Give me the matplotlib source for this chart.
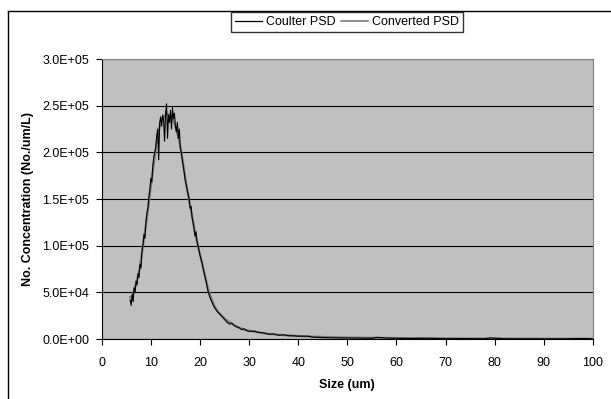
import matplotlib
matplotlib.use("Agg")
import matplotlib.pyplot as plt
from matplotlib.lines import Line2D

plt.rcParams["font.family"] = ["Liberation Sans", "DejaVu Sans"]

# Coulter PSD (black, noisy) - size in um, concentration in thousands No./um/L
coulter_size = [
    5.8, 6.0, 6.2, 6.4, 6.6, 6.8, 7.0, 7.2, 7.4, 7.6, 7.8, 8.0, 8.2, 8.4, 8.6, 8.8,
    9.0, 9.2, 9.4, 9.6, 9.8, 10.0, 10.2, 10.4, 10.6, 10.8, 11.0, 11.2, 11.4, 11.6,
    11.8, 12.0, 12.2, 12.4, 12.6, 12.8, 13.0, 13.2, 13.4, 13.6, 13.8, 14.0, 14.2,
    14.4, 14.6, 14.8, 15.0, 15.2, 15.4, 15.6, 15.8, 16.0, 16.2, 16.4, 16.6, 16.8,
    17.0, 17.2, 17.4, 17.6, 17.8, 18.0, 18.2, 18.4, 18.6, 18.8, 19.0, 19.2, 19.4,
    19.6, 19.8, 20.0, 20.4, 20.8, 21.2, 21.6, 22.0, 22.4, 22.8, 23.2, 23.6, 24.0,
    24.5, 25.0, 25.5, 26.0, 26.5, 27.0, 27.5, 28.0, 28.5, 29.0, 29.5, 30.0, 31, 32,
    33, 34, 35, 36, 37, 38, 39, 40, 42, 43, 45, 48, 52, 55, 56, 58, 62, 66, 70, 75,
    78, 79, 82, 88, 94, 98, 100,
]
coulter_conc = [
    42, 36, 48, 40, 55, 50, 62, 58, 70, 66, 80, 76, 95, 100, 112, 108,
    125, 135, 140, 152, 160, 172, 168, 185, 195, 200, 205, 218, 225, 192,
    232, 238, 228, 240, 235, 212, 242, 252, 215, 240, 232, 245, 225,
    248, 236, 242, 228, 222, 232, 215, 225, 205, 200, 192, 185, 178,
    170, 165, 160, 155, 150, 140, 142, 130, 125, 118, 110, 115, 105,
    100, 95, 90, 82, 72, 63, 52, 45, 40, 35, 32, 29, 27,
    24, 21, 18, 16, 17, 14, 13, 12, 10, 11, 9, 8, 8.5, 7,
    6.5, 5, 5.5, 4, 4.5, 3.5, 3.5, 3, 3, 2, 1.5, 1.2, 1.0, 0.8, 1.8, 1.0, 0.6, 0.8, 0.4, 0.4,
    0.3, 1.2, 0.3, 0.2, 0.2, 0.5, 0.1,
]

# Converted PSD (grey, smoother)
conv_size = [
    5.8, 6.2, 6.6, 7.0, 7.4, 7.8, 8.2, 8.6, 9.0, 9.4, 9.8, 10.2, 10.6, 11.0, 11.4,
    11.8, 12.2, 12.6, 13.0, 13.4, 13.8, 14.2, 14.6, 15.0, 15.4, 15.8, 16.2, 16.6,
    17.0, 17.4, 17.8, 18.2, 18.6, 19.0, 19.4, 19.8, 20.4, 21.0, 21.6, 22.2, 22.8,
    23.4, 24.0, 25.0, 26.0, 27.0, 28.0, 29.0, 30, 32, 34, 36, 38, 40, 43, 46, 50,
    55, 60, 65, 70, 80, 90, 100,
]
conv_conc = [
    45, 45, 52, 60, 68, 78, 92, 108, 122, 138, 155, 172, 188, 203, 218,
    228, 234, 238, 240, 241, 240, 237, 234, 228, 220, 212, 200, 187,
    173, 160, 148, 137, 126, 114, 104, 95, 82, 68, 55, 45, 37,
    31, 27, 22, 18, 15, 12, 10, 9, 7, 5.5, 4.5, 3.8, 3.2, 2.5, 2, 1.5,
    1.2, 1.0, 0.8, 0.6, 0.4, 0.3, 0.2,
]

fig = plt.figure(figsize=(6.11, 3.99), dpi=100)
ax = fig.add_axes([101.7 / 611, 60 / 399, (593 - 101.7) / 611, (339 - 59) / 399])
ax.set_facecolor("#c0c0c0")

ax.plot(conv_size, [v * 1000 for v in conv_conc], color="#7a7a7a", lw=1.6, zorder=3)
ax.plot(coulter_size, [v * 1000 for v in coulter_conc], color="black", lw=0.8, zorder=4)

ax.set_xlim(0, 100)
ax.set_ylim(0, 3e5)
ax.set_xticks(range(0, 101, 10))
yt = [i * 5e4 for i in range(7)]
ax.set_yticks(yt)
ax.set_yticklabels([f"{v:.1E}" for v in yt])
ax.yaxis.grid(True, color="black", lw=0.8)
ax.set_axisbelow(True)
ax.tick_params(labelsize=9, length=4, width=0.8, color="black")
ax.tick_params(axis="y", pad=5)
ax.tick_params(axis="x", pad=9)
for s in ["top", "right"]:
    ax.spines[s].set_color("#808080")
for s in ["left", "bottom"]:
    ax.spines[s].set_color("black")

ax.set_xlabel("Size (um)", fontsize=9, fontweight="bold", labelpad=7)
ax.set_ylabel("No. Concentration (No./um/L)", fontsize=9, fontweight="bold", labelpad=6)

handles = [Line2D([], [], color="black", lw=0.9), Line2D([], [], color="#7a7a7a", lw=1.2)]
fig.legend(handles, ["Coulter PSD", "Converted PSD"], loc="center",
           bbox_to_anchor=(347 / 611, 1 - 22 / 399), ncol=2, fontsize=9,
           frameon=True, fancybox=False, edgecolor="black", handlelength=2.2,
           handletextpad=0.3, columnspacing=0.4, borderpad=0.35)

# outer chart border
fig.add_artist(Line2D([8 / 611, 1], [1 - 11 / 399] * 2, color="black", lw=1, transform=fig.transFigure))
fig.add_artist(Line2D([8 / 611] * 2, [0, 1 - 11 / 399], color="black", lw=1, transform=fig.transFigure))

fig.savefig("out.png", dpi=100)
